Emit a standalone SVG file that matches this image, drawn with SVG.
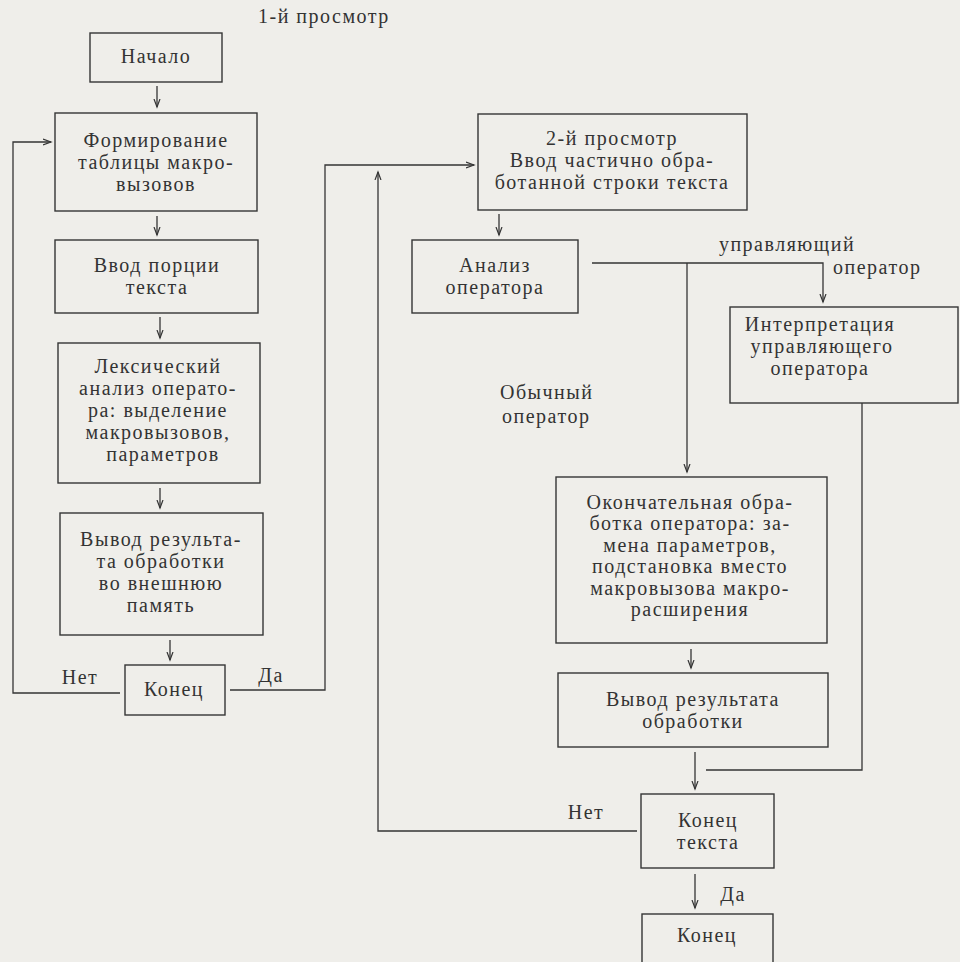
<svg xmlns="http://www.w3.org/2000/svg" width="960" height="962" viewBox="0 0 960 962">
<style>
.bg{fill:#efeeea}
.bx{fill:none;stroke:#353535;stroke-width:1.4}
.ln{fill:none;stroke:#353535;stroke-width:1.3}
.t{font-family:"Liberation Serif","DejaVu Serif",serif;font-size:20px;fill:#333;letter-spacing:1.5px}
.c{text-anchor:middle}
</style>
<defs>
<marker id="ah" markerUnits="userSpaceOnUse" markerWidth="10" markerHeight="10" refX="8" refY="4" orient="auto">
<path d="M0,1 L8,4 L0,7" fill="none" stroke="#353535" stroke-width="1.2"/>
</marker>
</defs>
<rect class="bg" x="0" y="0" width="960" height="962"/>
<text class="t" x="258" y="23">1-й просмотр</text>

<g id="n_start">
<rect class="bx" x="90" y="33" width="132" height="49"/>
<text class="t c" x="156" y="63">Начало</text>
</g>
<g id="n_form">
<rect class="bx" x="55" y="113" width="202" height="98"/>
<text class="t c" x="156" y="147">Формирование</text>
<text class="t c" x="156" y="169">таблицы макро-</text>
<text class="t c" x="156" y="191">вызовов</text>
</g>
<g id="n_input">
<rect class="bx" x="55" y="240" width="203" height="73"/>
<text class="t c" x="157" y="272">Ввод порции</text>
<text class="t c" x="157" y="294">текста</text>
</g>
<g id="n_lex">
<rect class="bx" x="58" y="343" width="202" height="140"/>
<text class="t c" x="158" y="373">Лексический</text>
<text class="t c" x="158" y="395">анализ операто-</text>
<text class="t c" x="158" y="417">ра: выделение</text>
<text class="t c" x="158" y="439">макровызовов,</text>
<text class="t c" x="163" y="461">параметров</text>
</g>
<g id="n_out1">
<rect class="bx" x="60" y="513" width="203" height="122"/>
<text class="t c" x="161" y="546">Вывод результа-</text>
<text class="t c" x="161" y="568">та обработки</text>
<text class="t c" x="161" y="590">во внешнюю</text>
<text class="t c" x="161" y="612">память</text>
</g>
<g id="n_end1">
<rect class="bx" x="125" y="665" width="100" height="50"/>
<text class="t c" x="174" y="696">Конец</text>
</g>

<g id="n_pass2">
<rect class="bx" x="478" y="114" width="269" height="96"/>
<text class="t c" x="612" y="145">2-й просмотр</text>
<text class="t c" x="612" y="167">Ввод частично обра-</text>
<text class="t c" x="612" y="189">ботанной строки текста</text>
</g>
<g id="n_anal">
<rect class="bx" x="412" y="240" width="166" height="73"/>
<text class="t c" x="495" y="272">Анализ</text>
<text class="t c" x="495" y="294">оператора</text>
</g>
<g id="n_interp">
<rect class="bx" x="730" y="307" width="228" height="96"/>
<text class="t c" x="820" y="331">Интерпретация</text>
<text class="t c" x="822" y="353">управляющего</text>
<text class="t c" x="820" y="375">оператора</text>
</g>
<g id="n_final">
<rect class="bx" x="556" y="477" width="271" height="166"/>
<text class="t c" x="690" y="509">Окончательная обра-</text>
<text class="t c" x="690" y="530">ботка оператора: за-</text>
<text class="t c" x="690" y="552">мена параметров,</text>
<text class="t c" x="690" y="573">подстановка вместо</text>
<text class="t c" x="690" y="595">макровызова макро-</text>
<text class="t c" x="690" y="616">расширения</text>
</g>
<g id="n_out2">
<rect class="bx" x="558" y="673" width="270" height="74"/>
<text class="t c" x="693" y="706">Вывод результата</text>
<text class="t c" x="693" y="728">обработки</text>
</g>
<g id="n_endtext">
<rect class="bx" x="641" y="794" width="133" height="74"/>
<text class="t c" x="708" y="827">Конец</text>
<text class="t c" x="708" y="849">текста</text>
</g>
<g id="n_end2">
<rect class="bx" x="642" y="914" width="131" height="70"/>
<text class="t c" x="707" y="942">Конец</text>
</g>

<g id="connectors">
<line class="ln" x1="157" y1="86" x2="157" y2="107" marker-end="url(#ah)"/>
<line class="ln" x1="157" y1="216" x2="157" y2="235" marker-end="url(#ah)"/>
<line class="ln" x1="160" y1="317" x2="160" y2="338" marker-end="url(#ah)"/>
<line class="ln" x1="160" y1="488" x2="160" y2="508" marker-end="url(#ah)"/>
<line class="ln" x1="170" y1="640" x2="170" y2="660" marker-end="url(#ah)"/>
<polyline class="ln" points="120,693 13,693 13,142 51,142" marker-end="url(#ah)"/>
<polyline class="ln" points="230,690 325,690 325,165 474,165" marker-end="url(#ah)"/>
<line class="ln" x1="499" y1="214" x2="499" y2="235" marker-end="url(#ah)"/>
<polyline class="ln" points="592,263 823,263 823,302" marker-end="url(#ah)"/>
<line class="ln" x1="687" y1="263" x2="687" y2="472" marker-end="url(#ah)"/>
<line class="ln" x1="691" y1="649" x2="691" y2="668" marker-end="url(#ah)"/>
<line class="ln" x1="695" y1="752" x2="695" y2="789" marker-end="url(#ah)"/>
<polyline class="ln" points="862,403 862,770 706,770"/>
<polyline class="ln" points="637,831 378,831 378,172" marker-end="url(#ah)"/>
<line class="ln" x1="695" y1="874" x2="695" y2="908" marker-end="url(#ah)"/>
</g>
<g id="labels">
<text class="t c" x="80" y="684">Нет</text>
<text class="t c" x="271" y="682">Да</text>
<text class="t c" x="787" y="251">управляющий</text>
<text class="t" x="833" y="274">оператор</text>
<text class="t" x="500" y="399">Обычный</text>
<text class="t" x="502" y="423">оператор</text>
<text class="t c" x="586" y="819">Нет</text>
<text class="t c" x="733" y="901">Да</text>
</g>
</svg>
